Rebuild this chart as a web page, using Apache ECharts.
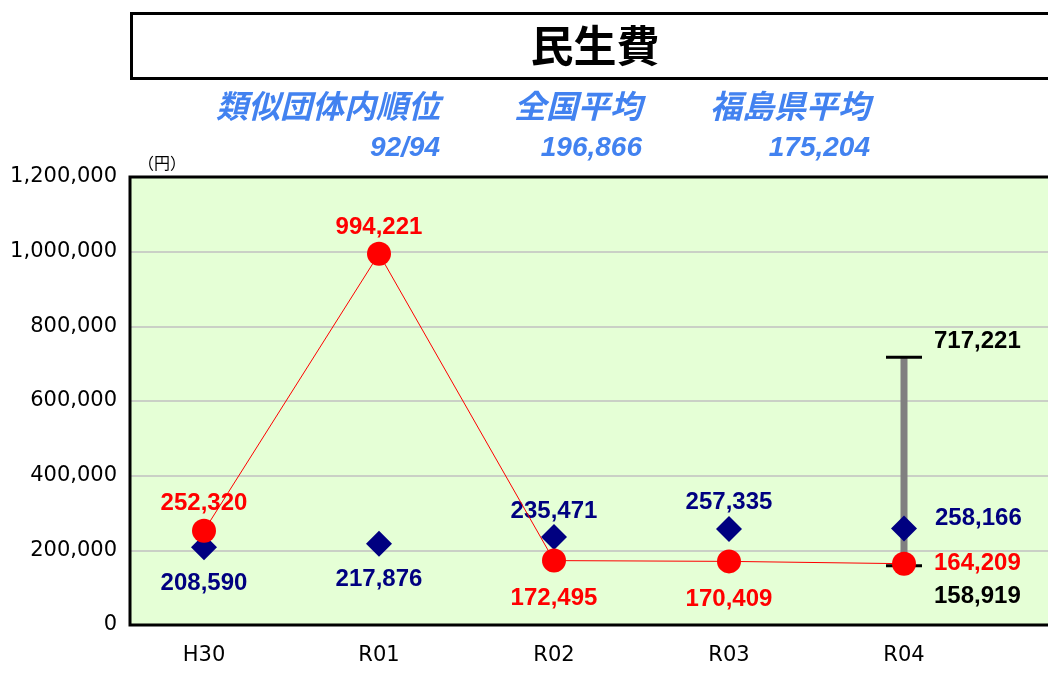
<!DOCTYPE html>
<html>
<head>
<meta charset="utf-8">
<script src="https://cdn.jsdelivr.net/npm/echarts@6/dist/echarts.min.js"></script>
<style>
  html, body { margin: 0; padding: 0; background: #fff; }
  #chart { width: 1048px; height: 673px; }
</style>
</head>
<body>
<div id="chart"></div>
<script>
// 年度
var years = ["H30", "R01", "R02", "R03", "R04"];
// 当団体（赤）
var cityValues = [252320, 994221, 172495, 170409, 164209];
// 類似団体平均（紺）
var groupAvg = [208590, 217876, 235471, 257335, 258166];
// 類似団体の最大・最小（R04）
var rangeYear = "R04";
var rangeMin = 158919;
var rangeMax = 717221;
// 上部の見出し
var headLabels = ["類似団体内順位", "全国平均", "福島県平均"];
var headValues = ["92/94", "196,866", "175,204"];

var yTicks = { min: 0, max: 1200000, interval: 200000 };

// ラベル位置（見た目の調整）
var cityLabelPos = ["top", "top", "bottom", "bottom", "right"];
var cityLabelDist = [3, 2, 14, 14, 18];
var groupLabelPos = ["bottom", "bottom", "top", "top", "right"];
var groupLabelDist = [11, 11, 1, 2, 18];
var groupLabelOffset = [[0, 0], [0, 0], [0, 0], [0, 0], [0, -10]];

var fmt = function (v) { return Number(v).toLocaleString("en-US"); };
var numFont = "Liberation Sans, Arial, sans-serif";
var headBlue = "#4282f0";
var headX = [440, 642, 870];

var chart = echarts.init(document.getElementById("chart"));

var cityData = cityValues.map(function (v, i) {
  return {
    value: v,
    label: { position: cityLabelPos[i], distance: cityLabelDist[i] }
  };
});
var groupData = groupAvg.map(function (v, i) {
  return {
    value: v,
    label: { position: groupLabelPos[i], distance: groupLabelDist[i], offset: groupLabelOffset[i] }
  };
});

function renderRange(params, api) {
  var lo = api.coord([api.value(0), api.value(1)]);
  var hi = api.coord([api.value(0), api.value(2)]);
  var x = lo[0];
  return {
    type: "group",
    children: [
      { type: "rect", shape: { x: x - 3.5, y: hi[1], width: 7, height: lo[1] - hi[1] }, style: { fill: "#808080" } },
      { type: "line", shape: { x1: x - 18, y1: hi[1], x2: x + 18, y2: hi[1] }, style: { stroke: "#000", lineWidth: 3 } },
      { type: "line", shape: { x1: x - 18, y1: lo[1], x2: x + 18, y2: lo[1] }, style: { stroke: "#000", lineWidth: 3 } },
      { type: "text", x: x + 30, y: hi[1] - 16, style: { text: fmt(api.value(2)), fill: "#000", font: "bold 24px " + numFont, textVerticalAlign: "middle" } },
      { type: "text", x: x + 30, y: lo[1] + 31, style: { text: fmt(api.value(1)), fill: "#000", font: "bold 24px " + numFont, textVerticalAlign: "middle" } }
    ]
  };
}

var graphics = [
  { type: "rect", left: 130, top: 12, shape: { width: 940, height: 65 }, style: { fill: "#fff", stroke: "#000", lineWidth: 3 } },
  { type: "text", x: 595, y: 46, style: { text: "民生費", font: "bold 43px 'Noto Sans CJK JP'", fill: "#000", textAlign: "center", textVerticalAlign: "middle" } },
  { type: "text", x: 138, y: 163, style: { text: "（円）", font: "16px 'Noto Sans CJK JP'", fill: "#000", textVerticalAlign: "middle" } },
  // プロット枠（右側は画面外へ続く）
  { type: "polyline", z: 100, shape: { points: [[1060, 177], [130, 177], [130, 625], [1060, 625]] }, style: { fill: null, stroke: "#000", lineWidth: 3 } }
];
headLabels.forEach(function (t, i) {
  graphics.push({ type: "text", x: headX[i], y: 106, style: { text: t, font: "italic bold 32px 'Noto Sans CJK JP'", fill: headBlue, textAlign: "right", textVerticalAlign: "middle" } });
  graphics.push({ type: "text", x: headX[i], y: 148, style: { text: headValues[i], font: "italic bold 28px " + numFont, fill: headBlue, textAlign: "right", textVerticalAlign: "middle" } });
});

var option = {
  animation: false,
  backgroundColor: "#fff",
  graphic: graphics,
  grid: [
    // 背景と目盛り
    { left: 130, top: 177, width: 940, bottom: 48, show: true, backgroundColor: "#e5ffd6", borderWidth: 0 },
    // 系列用
    { left: 116.5, top: 177, width: 875, bottom: 48 }
  ],
  xAxis: [
    { gridIndex: 0, type: "value", min: 0, max: 1, show: false },
    {
      gridIndex: 1, type: "category", data: years,
      axisLine: { show: false }, axisTick: { show: false },
      axisLabel: { margin: 20, fontSize: 21, fontFamily: "DejaVu Sans", color: "#000" }
    }
  ],
  yAxis: [
    {
      gridIndex: 0, type: "value", min: yTicks.min, max: yTicks.max, interval: yTicks.interval,
      axisLine: { show: false }, axisTick: { show: false },
      splitLine: { lineStyle: { color: "#c0c0c0", width: 1.5 } },
      axisLabel: { margin: 13, fontSize: 21, fontFamily: "DejaVu Sans", color: "#000", formatter: fmt }
    },
    { gridIndex: 1, type: "value", min: yTicks.min, max: yTicks.max, interval: yTicks.interval, show: false, splitLine: { show: false } }
  ],
  series: [
    {
      type: "custom", xAxisIndex: 1, yAxisIndex: 1, renderItem: renderRange, z: 1,
      data: [[years.indexOf(rangeYear), rangeMin, rangeMax]]
    },
    {
      name: "類似団体平均", type: "scatter", xAxisIndex: 1, yAxisIndex: 1, z: 2,
      symbol: "diamond", symbolSize: [26, 26],
      itemStyle: { color: "#000080", opacity: 1 },
      label: { show: true, color: "#000080", fontWeight: "bold", fontSize: 24, fontFamily: numFont, formatter: function (p) { return fmt(p.value); } },
      data: groupData
    },
    {
      name: "当団体", type: "line", xAxisIndex: 1, yAxisIndex: 1, z: 3,
      symbol: "circle", symbolSize: 24,
      lineStyle: { color: "#ff0000", width: 1 },
      itemStyle: { color: "#ff0000" },
      label: { show: true, color: "#ff0000", fontWeight: "bold", fontSize: 24, fontFamily: numFont, formatter: function (p) { return fmt(p.value); } },
      data: cityData
    }
  ]
};

chart.setOption(option);
window.onresize = function () {
  chart.resize();
};
</script>
</body>
</html>
